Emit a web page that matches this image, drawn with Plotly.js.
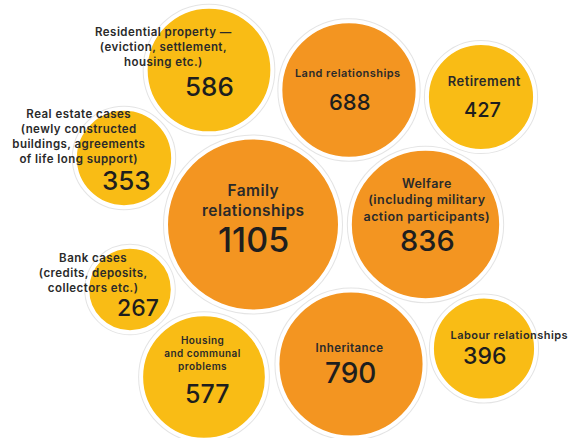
<!DOCTYPE html>
<html>
<head>
<meta charset="utf-8">
<script src="https://cdn.plot.ly/plotly-3.0.1.min.js"></script>
<style>
html,body{margin:0;padding:0;background:#fff;}
#chart{width:580px;height:438px;}
g.annotation[data-index="0"] text, g.annotation[data-index="2"] text, g.annotation[data-index="4"] text,
g.annotation[data-index="6"] text, g.annotation[data-index="8"] text, g.annotation[data-index="10"] text,
g.annotation[data-index="12"] text, g.annotation[data-index="14"] text, g.annotation[data-index="16"] text,
g.annotation[data-index="18"] text { letter-spacing: 0.45px; }
</style>
</head>
<body>
<div id="chart"></div>
<script>
// ---- data ----
const categories = [
  "Residential property —<br>(eviction, settlement,<br>housing etc.)",
  "Land relationships",
  "Retirement",
  "Real estate cases<br>(newly constructed<br>buildings, agreements<br>of life long support)",
  "Family<br>relationships",
  "Welfare<br>(including military<br>action participants)",
  "Bank cases<br>(credits, deposits,<br>collectors etc.)",
  "Housing<br>and communal<br>problems",
  "Inheritance",
  "Labour relationships"
];
const values = [586, 688, 427, 353, 1105, 836, 267, 577, 790, 396];
const group = ["y", "o", "y", "y", "o", "o", "y", "y", "o", "y"];

// ---- layout of the packed bubbles (positions) ----
const bx = [209, 349, 481, 124, 253, 425.5, 130, 204, 351, 484];
const by = [70, 90, 97, 158, 224.5, 224.5, 289.5, 377, 364, 348.5];
// label / number positions
const lx = [163, 347, 484, 78, 253, 427, 93, 202, 349.5, 509.5];
const ly = [47, 73, 81, 136, 200, 200, 273, 353, 348, 335];
const nx = [209, 349.5, 482, 126, 253, 427.5, 137.5, 207, 350, 484];
const ny = [86, 102, 110, 180, 239, 240, 308, 394, 373, 356];
const lsize = [11.5, 11, 13, 11.5, 15.5, 12.5, 11.5, 10, 11.5, 11];
const nsize = [26, 22, 20, 26, 34, 29, 23, 25, 28, 23];

const colors = {o: "#F39521", y: "#F9BC15"};
const FONT = "Inter, 'Open Sans', sans-serif";

const sizeref = 0.073;
const ring = {
  x: bx, y: by, mode: "markers", type: "scatter", hoverinfo: "skip",
  marker: {size: values, sizemode: "area", sizeref: sizeref,
           color: "#ffffff", line: {color: "#d9d9d9", width: 6}}
};
const fill = {
  x: bx, y: by, mode: "markers", type: "scatter",
  text: categories, hoverinfo: "skip",
  marker: {size: values, sizemode: "area", sizeref: sizeref,
           color: group.map(g => colors[g]), line: {color: "#ffffff", width: 4}, opacity: 1}
};

const annotations = [];
categories.forEach((c, i) => {
  annotations.push({x: lx[i], y: ly[i], xref: "x", yref: "y", text: c, showarrow: false,
    xanchor: "center", yanchor: "middle", align: "center",
    font: {family: FONT, size: lsize[i], color: "#2a2a2a", weight: 600}});
  annotations.push({x: nx[i], y: ny[i], xref: "x", yref: "y", text: String(values[i]), showarrow: false,
    xanchor: "center", yanchor: "middle",
    font: {family: FONT, size: nsize[i], color: "#1e1e1e", weight: 500}});
});

const layout = {
  width: 580, height: 438,
  margin: {l: 0, r: 0, t: 0, b: 0},
  paper_bgcolor: "#ffffff", plot_bgcolor: "#ffffff",
  showlegend: false,
  xaxis: {range: [0, 580], visible: false, fixedrange: true},
  yaxis: {range: [438, 0], visible: false, fixedrange: true},
  annotations: annotations
};

Plotly.newPlot("chart", [ring, fill], layout, {staticPlot: true, displayModeBar: false});
</script>
</body>
</html>
